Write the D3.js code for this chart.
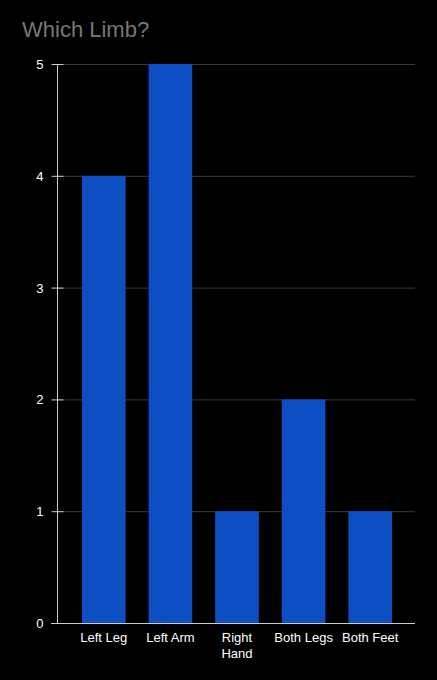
<!DOCTYPE html>
<html><head><meta charset="utf-8">
<script src="https://cdn.jsdelivr.net/npm/d3@7"></script>
<style>html,body{margin:0;padding:0;background:#000;}svg{display:block;}</style>
</head><body>
<script>
const categories = ["Left Leg", "Left Arm", "Right Hand", "Both Legs", "Both Feet"];
const values = [4, 5, 1, 2, 1];
const yTicks = [0, 1, 2, 3, 4, 5];
const title = "Which Limb?";

const W = 437, H = 680;
const FONT = "Arial, 'Liberation Sans', sans-serif";
const svg = d3.select("body").append("svg").attr("width", W).attr("height", H).style("background", "#000");
const x = d3.scaleBand().domain(categories).range([70.5, 403.5]).paddingInner(0.345).paddingOuter(0.1725);
const y = d3.scaleLinear().domain([0, 5]).range([623, 64]);

svg.append("text").attr("x", 22).attr("y", 37).text(title)
  .attr("fill", "#777777").attr("font-family", FONT).attr("font-size", 22);

// gridlines
svg.append("g").selectAll("line").data(yTicks.filter(d => d > 0)).join("line")
  .attr("x1", 58).attr("x2", 415).attr("y1", d => y(d) + 0.5).attr("y2", d => y(d) + 0.5)
  .attr("stroke", "#3a3a3a").attr("stroke-width", 1);

// bars
svg.append("g").selectAll("rect").data(values).join("rect")
  .attr("x", (d, i) => x(categories[i])).attr("width", x.bandwidth())
  .attr("y", d => y(d)).attr("height", d => y(0) - y(d))
  .attr("fill", "#0d4fc2");

// y axis
const yAxis = svg.append("g").attr("transform", "translate(57.5,0)")
  .call(d3.axisLeft(y).tickValues(yTicks).tickSize(6).tickFormat(d3.format("d")));
yAxis.select(".domain").attr("stroke", "#cccccc").attr("d", `M0,${y(5)}V${y(0)}`);
yAxis.selectAll(".tick line").attr("stroke", "#cccccc").attr("x1", -6).attr("x2", 6);
yAxis.selectAll(".tick text").attr("fill", "#ffffff").attr("x", -14).attr("dy", "0.35em")
  .attr("font-family", FONT).attr("font-size", 13);

// baseline
svg.append("line").attr("x1", 51).attr("x2", 415).attr("y1", y(0) + 0.5).attr("y2", y(0) + 0.5)
  .attr("stroke", "#cccccc").attr("stroke-width", 1);

// x labels
const xg = svg.append("g").attr("transform", `translate(0,${y(0)})`)
  .call(d3.axisBottom(x).tickSize(0).tickFormat(""));
xg.select(".domain").remove();
const lines = { "Right Hand": ["Right", "Hand"] };
xg.selectAll(".tick").each(function(d) {
  const t = d3.select(this).append("text").attr("fill", "#ffffff")
    .attr("font-family", FONT).attr("font-size", 13)
    .attr("text-anchor", "middle").attr("y", 19);
  (lines[d] || [d]).forEach((s, i) => t.append("tspan").attr("x", 0).attr("dy", i === 0 ? 0 : 16).text(s));
});
</script>
</body></html>
